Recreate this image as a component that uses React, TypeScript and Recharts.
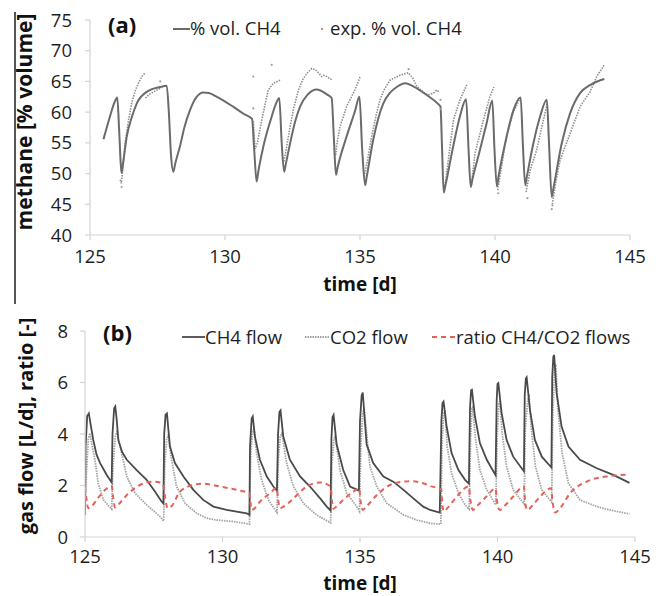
import React from 'react';
import { ComposedChart, Line, XAxis, YAxis } from 'recharts';

type P = [number, number];

// ---------- panel (a): methane content ----------
const timeTicks = [125, 130, 135, 140, 145];
const methaneTicks = [40, 45, 50, 55, 60, 65, 70, 75];
const flowTicks = [0, 2, 4, 6, 8];

const methaneModel: P[] = [
  [125.5, 55.6], [125.74, 59.3], [125.9, 61.5], [126.01, 62.4], [126.08, 57], [126.14, 51.5], [126.17, 50.1], [126.22, 51.5],
  [126.36, 56.0], [126.55, 59.2], [126.73, 61.4], [127.1, 63.3], [127.6, 64.1], [127.84, 64.3],
  [127.92, 60], [128.0, 53], [128.09, 50.3], [128.15, 51.5],
  [128.33, 54.4], [128.5, 57.6], [128.7, 60.3], [128.95, 62.5], [129.2, 63.2], [129.4, 63.1], [129.7, 62.5], [130.3, 60.9], [130.7, 59.7], [131.0, 58.9],
  [131.08, 54], [131.17, 48.7], [131.24, 50.5],
  [131.42, 54.4], [131.73, 59.3], [131.9, 61.5], [132.01, 62.3],
  [132.1, 55], [132.19, 50.3], [132.25, 51.5],
  [132.41, 54.9], [132.6, 58.5], [132.78, 60.9], [133.05, 62.8], [133.4, 63.7], [133.77, 62.9], [133.95, 62.3],
  [134.03, 56], [134.11, 49.8], [134.17, 51],
  [134.5, 56.0], [134.81, 60.1], [134.98, 62.5],
  [135.08, 54], [135.19, 48.1], [135.25, 49.5],
  [135.49, 55.5], [135.86, 61.4], [136.1, 63.1], [136.36, 64.1], [136.67, 64.7], [136.97, 64.2], [137.47, 62.8], [137.9, 61.3], [137.98, 60.9],
  [138.04, 54], [138.1, 46.9], [138.16, 48],
  [138.4, 53.3], [138.7, 59.3], [138.93, 62.1],
  [139.02, 54], [139.1, 47.8], [139.16, 49],
  [139.44, 53.8], [139.69, 58.2], [139.9, 61.9],
  [139.98, 54], [140.07, 47.9], [140.13, 49.5],
  [140.43, 56.0], [140.68, 60.3], [140.95, 62.4],
  [141.03, 55], [141.12, 48.1], [141.18, 49.5],
  [141.42, 54.9], [141.67, 59.3], [141.92, 62.0],
  [142.0, 55], [142.1, 46.2], [142.16, 47.5],
  [142.47, 54.9], [142.78, 59.8], [143.15, 63.1], [143.52, 64.4], [143.9, 65.2], [144.05, 65.4],
];

const expSegments: P[][] = [
  [[126.12, 49], [126.16, 48.4], [126.22, 51], [126.3, 54.9], [126.42, 58.5], [126.54, 61.4], [126.66, 63.3], [126.79, 64.7], [126.92, 65.8], [127.04, 66.4]],
  [[127.05, 62.3], [127.2, 62.9], [127.35, 63.3], [127.6, 63.9], [127.81, 64.4]],
  [[131.05, 58.5], [131.08, 56], [131.12, 54], [131.2, 55], [131.36, 58.7], [131.6, 63.6], [131.79, 64.7], [132.04, 65.2]],
  [[132.18, 52], [132.25, 53.5], [132.41, 57.6], [132.55, 60.8], [132.72, 63.6], [132.88, 65.3], [133.03, 66.3], [133.21, 67.1], [133.35, 66.9], [133.46, 66.4], [133.58, 65.8], [133.65, 66.0], [133.72, 65.9], [133.95, 65.3]],
  [[134.1, 53], [134.15, 55], [134.26, 57.6], [134.5, 60.9], [134.65, 62.2], [134.81, 63.6], [135.0, 65.7]],
  [[135.15, 49.5], [135.25, 51.5], [135.43, 56.0], [135.6, 59.5], [135.74, 62.0], [135.9, 63.7], [136.11, 65.2], [136.48, 66.0], [136.79, 66.4], [136.95, 65.6], [137.1, 64.2], [137.3, 63.4], [137.5, 62.8], [137.72, 63.1], [137.84, 63.6], [137.95, 63.2]],
  [[138.15, 48], [138.27, 52.2], [138.46, 58.7], [138.7, 62.0], [138.97, 64.6]],
  [[139.15, 49], [139.26, 53.3], [139.57, 58.7], [139.81, 62.5], [139.96, 64.1]],
  [[140.1, 47.3], [140.2, 50], [140.43, 56.2], [140.68, 60], [140.93, 62.3]],
  [[141.15, 47], [141.3, 50.5], [141.54, 53.8], [141.79, 58.7], [141.93, 61.3]],
  [[142.12, 45], [142.25, 48.5], [142.41, 52.2], [142.78, 56.5], [143.15, 60.9], [143.52, 63.3], [143.77, 65.8], [144.05, 67.7]],
];

const expOutliers: P[] = [
  [126.17, 47.8], [127.6, 65.0], [131.05, 65.8], [131.05, 60.6], [131.73, 67.7], [137.98, 62.0], [138.0, 60.5],
  [140.12, 46.8], [141.2, 46.0], [142.1, 44.2], [142.13, 44.8], [136.8, 67.0],
];

// ---------- panel (b): gas flows ----------
const ch4Flow: P[] = [
  [125.0, 0.85], [125.02, 3.5], [125.08, 4.7], [125.14, 4.8], [125.2, 4.4], [125.3, 3.77], [125.42, 3.2], [125.55, 2.87], [125.79, 2.41], [125.97, 2.12],
  [126.0, 4.0], [126.06, 5.0], [126.1, 5.07], [126.15, 4.6], [126.21, 3.77], [126.35, 3.3], [126.52, 3.0], [126.88, 2.6], [127.24, 2.22], [127.55, 1.76], [127.79, 1.37], [127.85, 1.3],
  [127.88, 4.0], [127.93, 4.75], [127.98, 4.8], [128.03, 4.2], [128.09, 3.51], [128.27, 2.87], [128.58, 2.35], [128.94, 1.83], [129.3, 1.44], [129.67, 1.18], [130.15, 1.05], [130.88, 0.92], [130.98, 0.86],
  [131.0, 3.5], [131.06, 4.6], [131.1, 4.68], [131.18, 3.9], [131.36, 3.0], [131.61, 2.35], [131.85, 1.96], [131.98, 1.8],
  [132.02, 4.0], [132.07, 4.85], [132.11, 4.91], [132.21, 3.9], [132.45, 3.0], [132.82, 2.35], [133.18, 1.96], [133.55, 1.5], [133.79, 1.18], [133.93, 1.03],
  [133.96, 3.8], [134.0, 4.65], [134.04, 4.74], [134.15, 3.6], [134.39, 2.6], [134.64, 1.96], [134.96, 1.8],
  [135.0, 4.5], [135.06, 5.5], [135.1, 5.61], [135.24, 3.6], [135.48, 2.87], [135.85, 2.35], [136.21, 2.15], [136.58, 1.83], [136.94, 1.5], [137.3, 1.18], [137.55, 1.05], [137.9, 0.95],
  [137.96, 4.5], [138.0, 5.2], [138.04, 5.26], [138.15, 4.29], [138.33, 3.26], [138.58, 2.6], [138.82, 2.22], [138.96, 2.07],
  [139.0, 5.0], [139.04, 5.7], [139.07, 5.72], [139.18, 4.68], [139.36, 3.65], [139.61, 3.0], [139.93, 2.4],
  [139.97, 5.3], [140.0, 5.95], [140.03, 5.98], [140.15, 4.81], [140.33, 3.77], [140.57, 3.12], [140.96, 2.55],
  [140.99, 5.5], [141.03, 6.15], [141.06, 6.2], [141.18, 4.94], [141.36, 3.77], [141.61, 3.12], [141.96, 2.7],
  [141.99, 6.2], [142.03, 7.0], [142.06, 7.07], [142.15, 5.59], [142.33, 4.29], [142.58, 3.51], [143.0, 3.0], [143.61, 2.67], [144.21, 2.41], [144.8, 2.1],
];

const co2Flow: P[] = [
  [125.0, 0.85], [125.05, 2.5], [125.12, 3.8], [125.18, 4.03], [125.25, 3.6], [125.36, 3.0], [125.48, 2.09], [125.67, 1.44], [125.97, 1.08],
  [126.02, 2.8], [126.1, 3.9], [126.17, 4.12], [126.24, 3.7], [126.33, 3.26], [126.52, 2.35], [126.82, 1.7], [127.24, 1.25], [127.73, 0.79], [127.86, 0.62],
  [127.9, 2.8], [127.97, 3.8], [128.03, 3.95], [128.08, 3.5], [128.15, 3.0], [128.33, 1.96], [128.64, 1.31], [129.06, 0.92], [129.42, 0.73], [129.79, 0.66], [130.39, 0.6], [130.98, 0.5],
  [131.02, 3.0], [131.08, 4.0], [131.14, 4.22], [131.24, 3.26], [131.42, 2.22], [131.67, 1.44], [131.98, 0.95],
  [132.03, 3.0], [132.1, 3.9], [132.16, 4.03], [132.33, 2.87], [132.58, 1.96], [132.94, 1.31], [133.42, 0.86], [133.93, 0.55],
  [133.98, 2.8], [134.05, 3.8], [134.1, 3.92], [134.27, 2.6], [134.52, 1.7], [134.88, 1.18], [134.98, 1.0],
  [135.03, 3.5], [135.1, 4.8], [135.15, 5.0], [135.36, 2.74], [135.61, 1.96], [135.97, 1.31], [136.58, 0.86], [137.06, 0.66], [137.55, 0.53], [137.94, 0.5],
  [137.98, 3.5], [138.04, 4.8], [138.09, 4.92], [138.17, 3.51], [138.33, 2.48], [138.58, 1.7], [138.82, 1.25], [138.97, 1.08],
  [139.02, 3.8], [139.07, 5.0], [139.1, 5.05], [139.19, 3.9], [139.36, 2.6], [139.61, 1.83], [139.94, 1.25],
  [139.99, 4.0], [140.05, 5.2], [140.09, 5.3], [140.17, 4.03], [140.33, 2.74], [140.57, 1.83], [140.97, 1.28],
  [141.01, 4.2], [141.1, 5.35], [141.15, 5.45], [141.22, 4.29], [141.38, 2.74], [141.61, 1.83], [141.97, 1.35],
  [142.01, 4.8], [142.08, 6.6], [142.12, 6.7], [142.2, 4.94], [142.35, 3.26], [142.58, 2.09], [143.0, 1.44], [143.61, 1.18], [144.21, 1.02], [144.8, 0.9],
];

const flowRatio: P[] = [
  [125.0, 1.95], [125.05, 1.5], [125.12, 1.12], [125.25, 1.2], [125.42, 1.44], [125.73, 1.83], [125.97, 1.98],
  [126.03, 1.5], [126.09, 1.15], [126.25, 1.3], [126.52, 1.63], [127.0, 2.02], [127.48, 2.15], [127.79, 2.1], [127.85, 2.0],
  [127.92, 1.5], [128.0, 1.12], [128.15, 1.2], [128.45, 1.76], [128.94, 2.02], [129.3, 2.07], [129.91, 1.96], [130.64, 1.8], [130.98, 1.7],
  [131.02, 1.3], [131.06, 1.05], [131.2, 1.15], [131.36, 1.37], [131.73, 1.7], [131.97, 1.9],
  [132.03, 1.4], [132.09, 1.12], [132.25, 1.2], [132.58, 1.5], [133.06, 1.96], [133.55, 2.12], [133.85, 2.02], [133.94, 1.9],
  [133.98, 1.4], [134.03, 1.1], [134.15, 1.2], [134.39, 1.44], [134.76, 1.76], [134.97, 1.89],
  [135.02, 1.4], [135.1, 1.05], [135.25, 1.2], [135.61, 1.63], [136.09, 2.02], [136.58, 2.15], [136.82, 2.17], [137.3, 2.09], [137.55, 1.98], [137.95, 1.85],
  [137.99, 1.3], [138.05, 1.0], [138.2, 1.15], [138.52, 1.57], [138.95, 1.96],
  [139.02, 1.4], [139.1, 1.05], [139.25, 1.2], [139.6, 1.57], [139.93, 1.89],
  [139.98, 1.4], [140.08, 1.05], [140.25, 1.2], [140.57, 1.57], [140.96, 1.96],
  [141.0, 1.4], [141.08, 1.05], [141.25, 1.2], [141.55, 1.57], [141.95, 1.89],
  [142.0, 1.4], [142.1, 0.95], [142.3, 1.15], [142.64, 1.7], [143.24, 2.15], [143.97, 2.35], [144.8, 2.42],
];

const pts = (a: P[]) => a.map(([t, v]) => ({ t, v }));

const FONT = "'Open Sans', 'DejaVu Sans', sans-serif";
const MODEL_GRAY = '#6b6b6b';
const EXP_GRAY = '#8e8e8e';
const CH4_COLOR = '#4a4a4a';
const CO2_COLOR = '#a3a3a3';
const RATIO_RED = '#e4625a';

export default function App() {
  const tick = { fontSize: 18.5, fill: '#1e1e1e', fontFamily: FONT };
  const axisLine = { stroke: '#d4d4d4', strokeWidth: 1.2 };
  return (
    <div style={{ position: 'absolute', left: 0, top: 0, width: 662, height: 596, background: '#fff', overflow: 'hidden' }}>
      <div style={{ position: 'absolute', left: 0, top: 0 }}>
        <ComposedChart width={662} height={300} margin={{ top: 20, right: 32, bottom: 35, left: 0 }}>
          <XAxis type="number" dataKey="t" domain={[125, 145]} ticks={timeTicks} allowDataOverflow interval={0}
            axisLine={axisLine} tickLine={axisLine} tickSize={5} tickMargin={10} tick={tick} height={30} />
          <YAxis type="number" dataKey="v" domain={[40, 75]} ticks={methaneTicks} allowDataOverflow interval={0}
            axisLine={axisLine} tickLine={axisLine} tickSize={5} tickMargin={13} tick={tick} width={90} />
          {expSegments.map((seg, i) => (
            <Line key={'e' + i} data={pts(seg)} dataKey="v" type="linear" stroke={EXP_GRAY} strokeWidth={1.6}
              strokeDasharray="1.5 1.2" dot={false} isAnimationActive={false} />
          ))}
          <Line data={pts(expOutliers)} dataKey="v" stroke="none" dot={{ r: 1.1, fill: '#a0a0a0', stroke: 'none' }}
            activeDot={false} isAnimationActive={false} />
          <Line data={pts(methaneModel)} dataKey="v" type="monotone" stroke={MODEL_GRAY} strokeWidth={2}
            dot={false} isAnimationActive={false} />
        </ComposedChart>
      </div>
      <div style={{ position: 'absolute', left: 0, top: 300 }}>
        <ComposedChart width={662} height={296} margin={{ top: 31, right: 27, bottom: 29, left: 0 }}>
          <XAxis type="number" dataKey="t" domain={[125, 145]} ticks={timeTicks} allowDataOverflow interval={0}
            axisLine={axisLine} tickLine={axisLine} tickSize={5} tickMargin={8} tick={tick} height={30} />
          <YAxis type="number" dataKey="v" domain={[0, 8]} ticks={flowTicks} allowDataOverflow interval={0}
            axisLine={axisLine} tickLine={axisLine} tickSize={5} tickMargin={12} tick={tick} width={85} />
          <Line data={pts(co2Flow)} dataKey="v" type="linear" stroke={CO2_COLOR} strokeWidth={1.8}
            strokeDasharray="1.5 1" dot={false} isAnimationActive={false} />
          <Line data={pts(ch4Flow)} dataKey="v" type="linear" stroke={CH4_COLOR} strokeWidth={1.8}
            dot={false} isAnimationActive={false} />
          <Line data={pts(flowRatio)} dataKey="v" type="monotone" stroke={RATIO_RED} strokeWidth={2}
            strokeDasharray="5 4" dot={false} isAnimationActive={false} />
        </ComposedChart>
      </div>
      <svg width={662} height={596} style={{ position: 'absolute', left: 0, top: 0, pointerEvents: 'none' }}
        fontFamily={FONT}>
        <line x1={15} y1={12} x2={15} y2={304} stroke="#555" strokeWidth={2} />
        {/* axis titles */}
        <text x={32} y={122} transform="rotate(-90 32 122)" textAnchor="middle" fontSize={21} fontWeight={700} fill="#111">methane [% volume]</text>
        <text x={33} y={426} transform="rotate(-90 33 426)" textAnchor="middle" fontSize={20} fontWeight={700} fill="#111">gas flow [L/d], ratio [-]</text>
        <text x={360} y={291} textAnchor="middle" fontSize={19} fontWeight={700} fill="#111">time [d]</text>
        <text x={360} y={590} textAnchor="middle" fontSize={19} fontWeight={700} fill="#111">time [d]</text>
        {/* legend (a) */}
        <text x={108} y={33} fontSize={22} fontWeight={700} fill="#111">(a)</text>
        <line x1={173} y1={29} x2={190} y2={29} stroke={MODEL_GRAY} strokeWidth={2} />
        <text x={190} y={35} fontSize={18.5} fill="#1e1e1e">% vol. CH4</text>
        <circle cx={322} cy={29} r={1.2} fill="#a0a0a0" />
        <text x={330} y={35} fontSize={18.5} fill="#1e1e1e">exp. % vol. CH4</text>
        {/* legend (b) */}
        <text x={103} y={341} fontSize={22} fontWeight={700} fill="#111">(b)</text>
        <line x1={182} y1={337} x2={205} y2={337} stroke={CH4_COLOR} strokeWidth={1.8} />
        <text x={205} y={344} fontSize={18.5} fill="#1e1e1e">CH4 flow</text>
        <line x1={305} y1={337} x2={330} y2={337} stroke={CO2_COLOR} strokeWidth={1.8} strokeDasharray="1.5 1" />
        <text x={330} y={344} fontSize={18.5} fill="#1e1e1e">CO2 flow</text>
        <line x1={432} y1={337} x2={456} y2={337} stroke={RATIO_RED} strokeWidth={2} strokeDasharray="5 4" />
        <text x={456} y={344} fontSize={18.5} fill="#1e1e1e">ratio CH4/CO2 flows</text>
      </svg>
    </div>
  );
}
